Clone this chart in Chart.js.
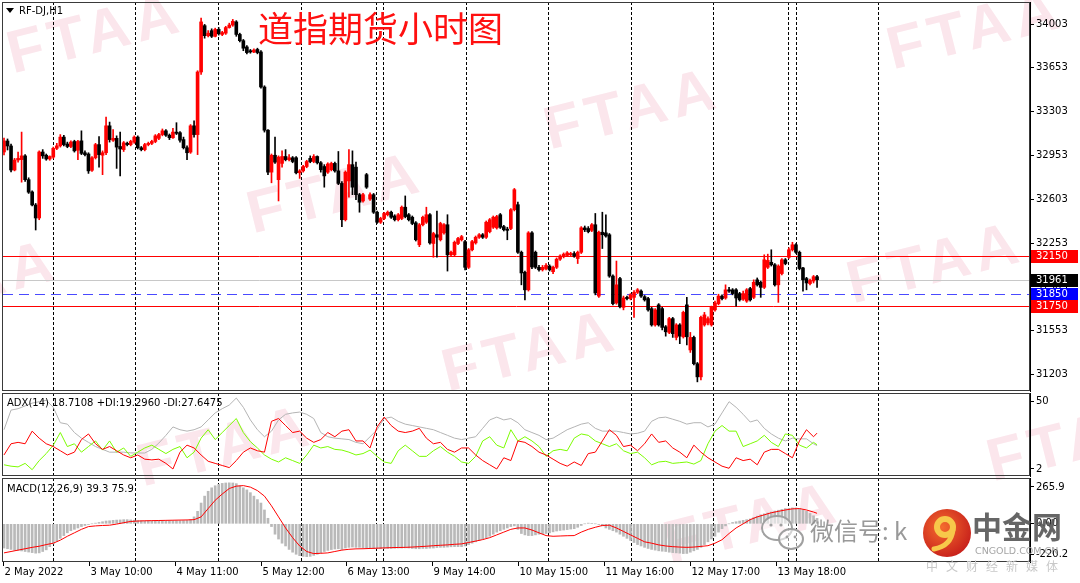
<!DOCTYPE html>
<html>
<head>
<meta charset="utf-8">
<script src="https://cdn.jsdelivr.net/npm/chart.js@4.4.0/dist/chart.umd.min.js"></script>
<style>
html, body { margin: 0; padding: 0; background: #fff; }
#wrap { position: relative; width: 1080px; height: 583px; overflow: hidden; font-family: "DejaVu Sans", sans-serif; }
canvas { position: absolute; left: 0; z-index: 2; }
#cPrice { top: 0; }
#cAdx { top: 392px; }
#cMacd { top: 477px; }
.wm { position: absolute; z-index: 1; font: bold 60px "Liberation Sans", sans-serif; color: #fbe6ec; letter-spacing: 6px;
      transform: translate(-50%, -50%) rotate(-14deg); white-space: nowrap; }
.lbl { position: absolute; z-index: 3; font-size: 10px; line-height: 12px; color: #000; white-space: nowrap; }
.tri { position: absolute; left: 6px; top: 8px; z-index: 3; width: 0; height: 0;
       border-left: 4px solid transparent; border-right: 4px solid transparent; border-top: 5px solid #000; }
#title { position: absolute; left: 258px; top: 9px; z-index: 3; font: 35px/1 "Noto Sans CJK SC", sans-serif; color: #ff1010; }
#logo { position: absolute; left: 0; top: 0; z-index: 4; }
.ov { position: absolute; z-index: 5; white-space: nowrap; }
</style>
</head>
<body>
<div id="wrap">
  <div class="wm" style="left:95px;top:32px">FTAA</div>
  <div class="wm" style="left:632px;top:108px">FTAA</div>
  <div class="wm" style="left:335px;top:192px">FTAA</div>
  <div class="wm" style="left:530px;top:350px">FTAA</div>
  <div class="wm" style="left:935px;top:262px">FTAA</div>
  <div class="wm" style="left:975px;top:28px">FTAA</div>
  <div class="wm" style="left:-30px;top:280px">FTAA</div>
  <div class="wm" style="left:225px;top:445px">FTAA</div>
  <div class="wm" style="left:1075px;top:440px">FTAA</div>
  <div class="wm" style="left:752px;top:522px">FTAA</div>

  <canvas id="cPrice" width="1080" height="392"></canvas>
  <canvas id="cAdx" width="1080" height="85"></canvas>
  <canvas id="cMacd" width="1080" height="106"></canvas>

  <div class="tri"></div>
  <div class="lbl" style="left:19px;top:5px">RF-DJ,H1</div>
  <div id="title">道指期货小时图</div>
  <div class="lbl" style="left:7px;top:397px">ADX(14) 18.7108 +DI:19.2960 -DI:27.6475</div>
  <div class="lbl" style="left:7px;top:483px">MACD(12,26,9) 39.3 75.9</div>

  <svg id="logo" width="1080" height="583">
    <defs>
      <radialGradient id="rg" cx="40%" cy="38%" r="65%">
        <stop offset="0" stop-color="#f46b2e"/>
        <stop offset="1" stop-color="#c8211b"/>
      </radialGradient>
    </defs>
    <g fill="#ffffff" fill-opacity="0.55" stroke="#a0a0a0" stroke-width="2">
      <ellipse cx="777" cy="528" rx="15" ry="12"/>
      <ellipse cx="791" cy="539" rx="12" ry="10"/>
    </g>
    <g fill="#a0a0a0">
      <circle cx="771" cy="525" r="1.6"/><circle cx="781" cy="525" r="1.6"/>
      <circle cx="787" cy="537" r="1.4"/><circle cx="795" cy="537" r="1.4"/>
    </g>
    <circle cx="947" cy="533" r="24" fill="url(#rg)"/>
    <circle cx="945" cy="527" r="8" fill="none" stroke="#f7c84a" stroke-width="6"/>
    <path d="M953 530 Q951 546 934 549" fill="none" stroke="#f7c84a" stroke-width="5" stroke-linecap="round"/>
  </svg>
  <div class="ov" style="left:810px;top:518px;font:24px/1 'Noto Sans CJK SC';color:rgba(135,135,135,0.85)">微信号: k</div>
  <div class="ov" style="left:972px;top:510px;font:bold 30px/1 'Noto Sans CJK SC';color:rgba(85,85,85,0.9)">中金网</div>
  <div class="ov" style="left:975px;top:546px;font:9.5px/1 'DejaVu Sans';color:#a5a5a5">CNGOLD.COM.CN</div>
  <div class="ov" style="left:926px;top:560px;font:12px/1 'Noto Sans CJK SC';color:#c8c8c8;letter-spacing:8px">中文财经新媒体</div>
</div>

<script>
// hourly candles, RF-DJ H1, 2 May - 13 May 2022
const opens = [
  32981,33069,33029,32837,32917,32920,32950,32760,32662,32558,
  32454,32981,32955,32925,32940,33010,33030,33100,33045,33025,
  33065,32995,33070,32975,32965,32835,32935,33040,32955,32975,
  33190,33075,33090,33025,33000,33050,33040,33060,33100,33015,
  33000,33040,33050,33065,33090,33120,33150,33115,33095,33140,
  33135,33080,33015,32980,33190,33120,33620,33990,33910,33950,
  33905,33960,33920,33930,33975,33995,34020,33920,33870,33820,
  33790,33780,33800,33780,33500,33155,32820,32955,32760,32890,
  32945,32920,32935,32935,32815,32830,32865,32930,32905,32945,
  32895,32865,32820,32840,32890,32830,32730,32440,32750,32880,
  32860,32640,32590,32800,32605,32640,32500,32420,32450,32480,
  32500,32470,32440,32450,32540,32480,32460,32415,32240,32400,
  32420,32480,32250,32320,32280,32335,32400,32160,32160,32250,
  32280,32265,32060,32200,32255,32300,32320,32300,32345,32380,
  32375,32480,32385,32365,32370,32520,32560,32180,32020,31880,
  32335,32180,32060,32040,32050,32070,32025,32060,32125,32145,
  32155,32160,32170,32130,32180,32375,32370,32355,32400,31830,
  32340,32335,32320,31990,31775,31970,31740,31820,31810,31820,
  31860,31870,31825,31810,31730,31600,31760,31730,31585,31540,
  31650,31500,31600,31505,31760,31400,31500,31290,31185,31600,
  31615,31600,31720,31770,31830,31815,31880,31880,31880,31850,
  31805,31790,31890,31820,31960,31940,31900,32060,32100,32080,
  31920,32010,32120,32140,32200,32240,32180,32055,31970,31930,
  31950,31985
];
const highs = [
  33093,33085,33045,32930,32980,33140,32960,32775,32670,32570,
  32990,33000,32965,32950,33020,33050,33120,33115,33060,33070,
  33075,33075,33150,32990,32975,32945,33050,33105,32990,33260,
  33220,33160,33110,33140,33065,33060,33075,33110,33110,33025,
  33050,33060,33075,33120,33130,33165,33160,33125,33170,33215,
  33145,33100,33030,33200,33230,33630,34050,34000,33950,33965,
  33970,33975,33945,33985,34010,34040,34030,33930,33880,33830,
  33800,33805,33810,33790,33510,33160,32965,33100,32950,32990,
  33000,32960,32945,32945,32840,32875,32915,32950,32960,32950,
  32905,32880,32895,32900,32900,32985,32745,32830,33000,32990,
  32900,32650,32650,32810,32655,32650,32510,32460,32500,32510,
  32510,32480,32490,32550,32630,32490,32470,32425,32410,32470,
  32540,32490,32340,32510,32420,32410,32480,32190,32270,32300,
  32315,32275,32210,32275,32310,32330,32330,32430,32450,32470,
  32475,32490,32395,32380,32530,32690,32580,32190,32030,32345,
  32345,32190,32075,32075,32090,32080,32070,32135,32160,32175,
  32185,32180,32185,32190,32385,32390,32385,32410,32490,32350,
  32500,32480,32330,32000,32110,31980,31830,31830,31850,31875,
  31890,31880,31835,31820,31740,31730,31770,31740,31595,31660,
  31660,31610,31610,31710,31820,31540,31510,31300,31670,31700,
  31665,31750,31790,31845,31840,31920,31900,31890,31890,31860,
  31870,31890,31900,31960,31975,31950,32160,32165,32200,32090,
  32080,32130,32130,32215,32260,32250,32190,32060,31980,31965,
  31995,31995
];
const lows = [
  32957,32997,32821,32830,32900,32740,32745,32650,32550,32358,
  32440,32930,32915,32915,32930,33000,33020,33030,33015,33015,
  32980,32920,32960,32950,32810,32825,32925,32860,32800,32960,
  33060,33065,32850,32790,32985,33030,33030,33050,33005,32990,
  32990,33030,33040,33055,33080,33110,33105,33080,33090,33120,
  33060,33005,32920,32970,33100,32960,33600,33890,33900,33895,
  33900,33915,33910,33920,33970,33985,33905,33860,33790,33765,
  33770,33775,33765,33490,33140,32800,32735,32890,32590,32860,
  32910,32910,32895,32805,32770,32820,32855,32895,32895,32885,
  32820,32700,32810,32830,32820,32720,32385,32430,32620,32640,
  32600,32500,32580,32690,32595,32490,32410,32410,32440,32470,
  32450,32430,32430,32440,32455,32430,32400,32270,32225,32390,
  32410,32245,32140,32140,32270,32325,32030,32150,32150,32240,
  32270,32040,32050,32190,32245,32290,32290,32290,32335,32370,
  32365,32370,32350,32280,32360,32510,32170,31920,31800,31870,
  32050,32050,32030,32030,32040,32030,32010,32050,32115,32135,
  32145,32150,32140,32090,32170,32345,32335,32345,31840,31820,
  32210,32300,31980,31760,31765,31735,31720,31800,31800,31660,
  31850,31820,31790,31710,31590,31590,31590,31560,31510,31530,
  31500,31480,31450,31495,31440,31380,31280,31145,31160,31590,
  31600,31590,31710,31760,31800,31805,31860,31840,31750,31790,
  31795,31780,31790,31810,31910,31820,31890,32050,32070,31910,
  31780,32000,32080,32130,32190,32170,32040,31870,31880,31920,
  31935,31900
];
const closes = [
  33069,33029,32837,32917,32930,32950,32760,32660,32558,32454,
  32981,32950,32925,32945,33010,33030,33100,33040,33025,33060,
  32990,33065,32970,32960,32830,32935,33040,32960,32975,33190,
  33080,33090,33020,33005,33055,33040,33065,33100,33015,33000,
  33040,33050,33065,33110,33120,33150,33115,33095,33140,33130,
  33075,33015,32975,33190,33120,33620,34020,33910,33930,33905,
  33960,33925,33935,33975,33995,34025,33920,33870,33810,33775,
  33780,33795,33775,33500,33155,32820,32955,32900,32940,32945,
  32920,32935,32905,32815,32830,32865,32905,32905,32945,32895,
  32840,32790,32885,32890,32830,32730,32440,32820,32880,32700,
  32640,32580,32640,32700,32640,32500,32420,32450,32490,32500,
  32460,32440,32480,32540,32465,32440,32410,32280,32400,32460,
  32480,32255,32330,32300,32410,32400,32160,32180,32260,32290,
  32305,32060,32200,32265,32300,32320,32300,32420,32440,32460,
  32465,32380,32360,32355,32520,32680,32180,32015,31880,32335,
  32063,32060,32040,32060,32075,32040,32060,32125,32150,32165,
  32175,32170,32150,32180,32375,32360,32345,32400,31855,32340,
  32320,32310,31990,31770,31920,31745,31815,31810,31840,31860,
  31880,31830,31800,31720,31600,31720,31600,31580,31545,31650,
  31530,31600,31510,31700,31505,31500,31290,31185,31660,31680,
  31650,31740,31775,31830,31810,31880,31870,31850,31815,31800,
  31850,31880,31800,31940,31920,31900,32120,32115,32080,31920,
  32070,32120,32090,32200,32240,32180,32050,31960,31935,31955,
  31985,31961
];

const priceTicks = [31203, 31553, 31903, 32253, 32603, 32953, 33303, 33653, 34003];
const resistance = 32150;
const lastPrice = 31961;
const pivot = 31850;
const support = 31750;

// indicator lines, one reading every second bar (last = final bar)
const adx = [
  30,44,45,47,49,50,51,46,35,34,
  28,24,21,18,16,14,14,14,13.5,13.4,
  13.4,16,20.5,26,32,30,29,30,32,37,
  42,45,47.6,52.6,46,37,30,25,29,37,
  41,42,42.6,41,38,28,25,24,23.5,23,
  21,20,25,30,38,39,36,34,33,32,
  31,30,28,26,24,23,24,25,31,37,
  39,37,38,35,30,28,26,23,24,27,
  30,32,34,35,31,29,29,29,28,27,
  27.5,29,36,38.5,39,37.5,36,34,35,35,
  32,34,42,50,46,41,35.5,37,31,27,
  24,22,24,23.5,23.5,20,18.7
];
const plusDI = [
  5,4,3.5,6,1.5,8,13,19,28,18,
  20,14,18,22,15.5,22,14,17,11,14,
  17,19,16,13,16,18,10,14,24,30,
  23,28,33,38,28,21.5,17,12,9,7,
  10,8,6,12,19,17,18,16,15.5,14,
  12,13,15.5,11,7,6,15,19,15,11,
  11,15,18,14,11,7,6,11,22,25,
  19,17,30,22,25,22,18,11,15,16,
  15,24,27,26,22,20,18,20,15,13,
  14,10,5,7,7.5,6,6.5,7,5.5,8,
  20,29,33,29,29,18,20,22,26,21,
  18,27,26,19,17,21,19.3
];
const minusDI = [
  12,20,21,20,29,24,20,18,15,12,
  14,23,27,20,16,18,15,12,10,12,
  9,8.5,9,6,2,14,19,17,12,7.5,
  6,4.5,3,8,14,17,15,14,36,38,
  33,28,29,24,21,23,28,25,29,30,
  22,22,17,32,39,33,29,28,29,31,
  24,20,21,16,14,17,17,12,8,5,
  2,10,8,22,21,18,14,12,9,6,
  4,7,4.5,13,14,22,30,26,18,19,
  15,20,27,21,22,17,14,10,19,14,
  10,7,4,2.5,10,8,9,5,14,16,
  16,13,10,22,30,25,27.6
];
const macdSignal = [
  -210,-200,-190,-180,-170,-162,-150,-140,-118,-90,
  -65,-40,-20,-15,-12,-10,-2,8,17,20,
  22,23,24,25,26,27,28,30,50,110,
  170,215,255,272,276,265,240,200,130,50,
  -30,-100,-160,-200,-215,-213,-210,-200,-190,-184,
  -181,-180,-178,-176,-174,-172,-171,-170,-168,-165,
  -162,-158,-155,-152,-148,-145,-135,-125,-114,-100,
  -80,-60,-40,-30,-30,-45,-65,-85,-90,-88,
  -86,-85,-60,-40,-25,-12,-10,-30,-55,-80,
  -105,-130,-140,-152,-160,-165,-168,-170,-168,-163,
  -158,-140,-115,-70,-30,0,30,50,65,80,
  90,100,108,110,100,85,75.9
];
// MACD main, one value per bar (histogram)
const macdMain = [
  -175,-180,-185,-190,-192,-196,-200,-204,-208,-212,
  -210,-200,-188,-165,-145,-125,-105,-85,-65,-50,
  -40,-30,-20,-12,-5,0,5,10,15,20,
  22,25,27,28,30,30,28,26,24,22,
  20,20,19,18,18,18,19,20,21,22,
  22,23,24,30,50,90,150,200,235,260,
  275,285,292,295,296,295,290,275,260,245,
  225,200,175,150,100,40,-20,-75,-110,-140,
  -160,-185,-205,-220,-230,-235,-237,-235,-228,-220,
  -210,-200,-192,-186,-182,-180,-185,-175,-170,-168,
  -170,-170,-172,-174,-176,-178,-180,-180,-180,-178,
  -178,-176,-175,-175,-174,-175,-178,-180,-180,-178,
  -178,-176,-175,-172,-170,-170,-168,-166,-165,-165,
  -165,-160,-150,-140,-130,-120,-110,-100,-90,-75,
  -60,-50,-40,-30,-20,-15,-40,-70,-80,-85,
  -85,-80,-75,-72,-70,-65,-58,-52,-48,-45,
  -42,-38,-35,-25,-12,0,5,3,0,-5,
  -15,-30,-40,-50,-60,-75,-90,-105,-120,-135,
  -150,-160,-170,-178,-185,-190,-195,-198,-200,-205,
  -208,-210,-212,-215,-214,-205,-195,-185,-170,-150,
  -130,-110,-90,-60,-35,-15,0,10,15,20,
  25,30,35,45,55,65,72,78,85,92,
  98,104,110,112,115,115,110,100,90,75,
  58,39.3
];
const timeLabels = ['2 May 2022', '3 May 10:00', '4 May 11:00', '5 May 12:00', '6 May 13:00',
  '9 May 14:00', '10 May 15:00', '11 May 16:00', '12 May 17:00', '13 May 18:00'];

// layout of the time axis, in bar units
const lineStep = 2;
const lastBar = closes.length - 1;
const labelStart = -0.3, labelStep = 24.4;
const gridStart = 13.9, gridStep = 23.45, gridCount = 11;
const markerBars = [105.7, 222.7];

Chart.defaults.font.family = 'DejaVu Sans';
Chart.defaults.font.size = 10;
Chart.defaults.color = '#000';

const xAxis = { type: 'linear', display: false, offset: false, min: -0.284, max: 291.5 };

function rightAxis(min, max, ticks, fmt) {
  return {
    type: 'linear', position: 'right', min: min, max: max,
    afterBuildTicks: s => { s.ticks = ticks.map(v => ({ value: v })); },
    afterFit: s => { s.width = 50; s.paddingTop = 0; s.paddingBottom = 0; },
    grid: { drawOnChartArea: false, drawTicks: true, tickLength: 4, tickColor: '#000' },
    border: { display: true, color: '#000' },
    ticks: { color: '#000', padding: 2, autoSkip: false, callback: fmt }
  };
}

const paneGrid = {
  id: 'paneGrid',
  beforeDatasetsDraw(chart) {
    const { ctx, chartArea: a, scales: { x } } = chart;
    const list = [];
    for (let k = 0; k < gridCount; k++) list.push(gridStart + k * gridStep);
    markerBars.forEach(b => list.push(b));
    ctx.save();
    ctx.strokeStyle = '#000';
    ctx.lineWidth = 1;
    ctx.setLineDash([3, 2]);
    list.forEach(b => {
      const px = Math.round(x.getPixelForValue(b)) + 0.5;
      ctx.beginPath();
      ctx.moveTo(px, a.top);
      ctx.lineTo(px, a.bottom);
      ctx.stroke();
    });
    ctx.restore();
  },
  afterDraw(chart) {
    const { ctx, chartArea: a } = chart;
    ctx.save();
    ctx.strokeStyle = '#3a3a3a';
    ctx.lineWidth = 1;
    ctx.strokeRect(a.left - 0.5, a.top + 0.5, a.right - a.left, a.bottom - a.top - 1);
    ctx.restore();
  }
};

const levels = {
  id: 'levels',
  beforeDatasetsDraw(chart) {
    const { ctx, chartArea: a, scales: { y } } = chart;
    const hl = (v, color, dash) => {
      const py = Math.round(y.getPixelForValue(v)) + 0.5;
      ctx.save();
      ctx.strokeStyle = color;
      ctx.lineWidth = 1;
      ctx.setLineDash(dash);
      ctx.beginPath();
      ctx.moveTo(a.left, py);
      ctx.lineTo(a.right, py);
      ctx.stroke();
      ctx.restore();
    };
    hl(lastPrice, '#c8c8c8', []);
    hl(resistance, '#ff0000', []);
    hl(support, '#ff0000', []);
    hl(pivot, '#4a4aff', [10, 6]);
  },
  afterDraw(chart) {
    const { ctx, chartArea: a, scales: { y } } = chart;
    const box = (v, bg) => {
      const py = Math.round(y.getPixelForValue(v));
      ctx.save();
      ctx.fillStyle = bg;
      ctx.fillRect(a.right + 1, py - 6, 47, 13);
      ctx.fillStyle = '#fff';
      ctx.font = '10px "DejaVu Sans"';
      ctx.textBaseline = 'middle';
      ctx.fillText(String(v), a.right + 6, py + 0.5);
      ctx.restore();
    };
    box(resistance, '#ff0000');
    box(lastPrice, '#000000');
    box(pivot, '#0000ff');
    box(support, '#ff0000');
  }
};

const timeAxis = {
  id: 'timeAxis',
  afterDraw(chart) {
    const { ctx, chartArea: a, scales: { x } } = chart;
    ctx.save();
    ctx.strokeStyle = '#000';
    ctx.fillStyle = '#000';
    ctx.font = '10px "DejaVu Sans"';
    ctx.textBaseline = 'middle';
    timeLabels.forEach((t, k) => {
      const px = Math.round(x.getPixelForValue(labelStart + k * labelStep)) + 0.5;
      ctx.beginPath();
      ctx.moveTo(px, a.bottom);
      ctx.lineTo(px, a.bottom + 4);
      ctx.stroke();
      ctx.fillText(t, px + 1, a.bottom + 10);
    });
    ctx.restore();
  }
};

const baseOpts = (pad, yAxis) => ({
  responsive: false, animation: false, events: [],
  layout: { padding: pad },
  plugins: { legend: { display: false }, tooltip: { enabled: false } },
  scales: { x: xAxis, y: yAxis }
});

const candleColor = closes.map((c, i) => (c >= opens[i] ? '#ff0000' : '#000000'));
const lineX = k => Math.min(k * lineStep, lastBar);

new Chart(document.getElementById('cPrice'), {
  type: 'bar',
  data: {
    datasets: [
      { data: closes.map((c, i) => ({ x: i, y: [opens[i], c] })), backgroundColor: candleColor,
        barThickness: 3, grouped: false, minBarLength: 1, order: 0 },
      { data: closes.map((c, i) => ({ x: i, y: [lows[i], highs[i]] })), backgroundColor: candleColor,
        barThickness: 1, grouped: false, order: 1 }
    ]
  },
  options: baseOpts({ left: 3, top: 2, right: 0, bottom: 1 },
    rightAxis(31072, 34179, priceTicks, v => String(v))),
  plugins: [paneGrid, levels]
});

new Chart(document.getElementById('cAdx'), {
  type: 'line',
  data: {
    datasets: [
      { data: minusDI.map((v, k) => ({ x: lineX(k), y: v })), borderColor: '#ff0000', order: 0 },
      { data: plusDI.map((v, k) => ({ x: lineX(k), y: v })), borderColor: '#7cfc00', order: 1 },
      { data: adx.map((v, k) => ({ x: lineX(k), y: v })), borderColor: '#b4b4b4', order: 2 }
    ].map(d => Object.assign(d, { borderWidth: 1, pointRadius: 0, tension: 0 }))
  },
  options: baseOpts({ left: 3, top: 1, right: 0, bottom: 1 },
    rightAxis(-3.0, 56.2, [50, 2], v => String(v))),
  plugins: [paneGrid]
});

new Chart(document.getElementById('cMacd'), {
  type: 'bar',
  data: {
    datasets: [
      { type: 'line', data: macdSignal.map((v, k) => ({ x: lineX(k), y: v })), borderColor: '#ff0000',
        borderWidth: 1, pointRadius: 0, tension: 0, order: 0 },
      { data: macdMain.map((v, i) => ({ x: i, y: v })), backgroundColor: '#b9b9b9',
        barThickness: 2, grouped: false, order: 1 }
    ]
  },
  options: baseOpts({ left: 3, top: 1, right: 0, bottom: 21 },
    rightAxis(-275.8, 330.9, [265.9, 0, -220.2], v => (v === 0 ? '0.00' : v.toFixed(1)))),
  plugins: [paneGrid, timeAxis]
});
</script>
</body>
</html>
